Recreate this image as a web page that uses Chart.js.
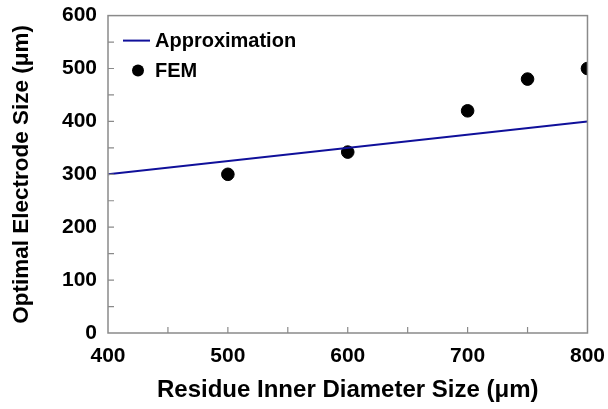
<!DOCTYPE html>
<html>
<head>
<meta charset="utf-8">
<script src="https://cdn.jsdelivr.net/npm/chart.js@4.4.0/dist/chart.umd.min.js"></script>
<style>
  html, body { margin: 0; padding: 0; background: #fff; }
  #wrap { width: 608px; height: 409px; position: relative; }
</style>
</head>
<body>
<div id="wrap"><canvas id="optChart"></canvas></div>
<script>
// diameter (um) vs electrode size (um)
const approxX = [400, 800];
const approxY = [300, 400];
const femX = [500, 600, 700, 750, 800];
const femY = [300, 342, 420, 480, 500];

const seriesNames = ['Approximation', 'FEM'];
const lineColor = '#10109a';
const axisGray = '#8a8a8a';
const fontFam = '"Liberation Sans", Arial, sans-serif';

const toPoints = (xs, ys) => xs.map((x, i) => ({ x: x, y: ys[i] }));

// frame, inward ticks and legend drawn over the chart area
const framePlugin = {
    id: 'frame',
    afterDraw(chart) {
        const c = chart.ctx;
        const a = chart.chartArea;
        const xs = chart.scales.x, ys = chart.scales.y;
        c.save();
        c.strokeStyle = axisGray;
        c.lineWidth = 1.5;
        c.strokeRect(a.left, a.top, a.right - a.left, a.bottom - a.top);

        c.lineWidth = 1.2;
        c.beginPath();
        for (let v = 50; v < 600; v += 50) {
            const py = ys.getPixelForValue(v);
            c.moveTo(a.left, py);
            c.lineTo(a.left + 6, py);
        }
        for (let v = 450; v < 800; v += 50) {
            const px = xs.getPixelForValue(v);
            c.moveTo(px, a.bottom);
            c.lineTo(px, a.bottom - 6);
        }
        c.stroke();

        // legend
        c.font = 'bold 20px ' + fontFam;
        c.fillStyle = '#000';
        c.textBaseline = 'middle';
        c.strokeStyle = lineColor;
        c.lineWidth = 2;
        c.beginPath();
        c.moveTo(a.left + 15, a.top + 25);
        c.lineTo(a.left + 42, a.top + 25);
        c.stroke();
        c.fillText(seriesNames[0], a.left + 47, a.top + 26);
        c.beginPath();
        c.arc(a.left + 30, a.top + 55, 6, 0, Math.PI * 2);
        c.fill();
        c.fillText(seriesNames[1], a.left + 47, a.top + 56);
        c.restore();
    }
};

new Chart(document.getElementById('optChart'), {
    type: 'scatter',
    data: {
        datasets: [{
            label: seriesNames[0],
            type: 'line',
            data: toPoints(approxX, approxY),
            borderColor: lineColor,
            borderWidth: 2,
            pointRadius: 0,
            fill: false
        }, {
            label: seriesNames[1],
            data: toPoints(femX, femY),
            backgroundColor: '#000',
            borderColor: '#000',
            pointRadius: 6.3,
            pointHoverRadius: 6.3
        }]
    },
    options: {
        responsive: true,
        maintainAspectRatio: false,
        animation: false,
        layout: { padding: { top: 4, right: 20, left: 0, bottom: 0 } },
        plugins: {
            legend: { display: false },
            tooltip: { enabled: false }
        },
        scales: {
            x: {
                type: 'linear',
                min: 400, max: 800,
                grid: { display: false },
                border: { display: false },
                ticks: {
                    stepSize: 100,
                    color: '#000',
                    padding: 3,
                    font: { family: fontFam, size: 21, weight: 'bold' }
                },
                title: {
                    display: true,
                    text: 'Residue Inner Diameter Size (μm)',
                    color: '#000',
                    padding: { top: 11 },
                    font: { family: fontFam, size: 24, weight: 'bold' }
                },
                afterFit(s) { s.height = 76; }
            },
            y: {
                min: 0, max: 600,
                grid: { display: false },
                border: { display: false },
                ticks: {
                    stepSize: 100,
                    color: '#000',
                    padding: 3,
                    font: { family: fontFam, size: 21, weight: 'bold' }
                },
                title: {
                    display: true,
                    text: 'Optimal Electrode Size (μm)',
                    color: '#000',
                    padding: { top: 8, bottom: 0 },
                    font: { family: fontFam, size: 22.5, weight: 'bold' }
                },
                afterFit(s) { s.width = 108; }
            }
        }
    },
    plugins: [framePlugin]
});
</script>
</body>
</html>
